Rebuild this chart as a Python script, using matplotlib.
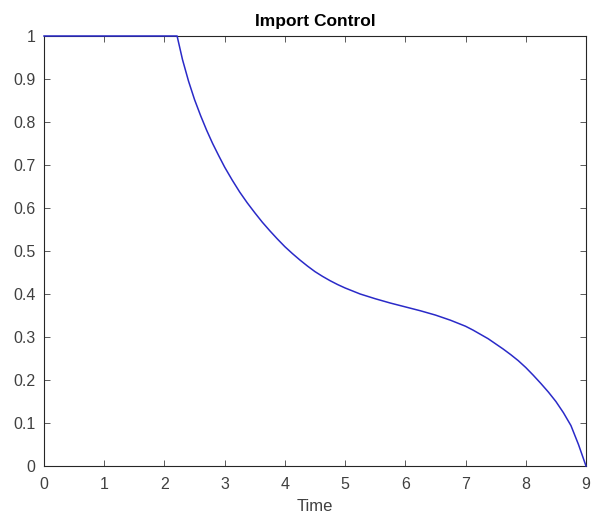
import matplotlib
matplotlib.use("Agg")
import matplotlib.pyplot as plt

# import control u(t)
time = [0.0, 2.21, 2.3, 2.4, 2.5, 2.6, 2.7, 2.8, 2.9, 3.0, 3.125, 3.25, 3.375,
        3.5, 3.625, 3.75, 3.875, 4.0, 4.125, 4.25, 4.375, 4.5, 4.625, 4.75,
        4.875, 5.0, 5.25, 5.5, 5.75, 6.0, 6.25, 6.5, 6.75, 7.0, 7.125, 7.25,
        7.375, 7.5, 7.625, 7.75, 7.875, 8.0, 8.125, 8.25, 8.375, 8.5, 8.625,
        8.75, 8.875, 9.0]
control = [1.0, 1.0, 0.945, 0.895, 0.852, 0.815, 0.781, 0.75, 0.722, 0.695,
           0.665, 0.637, 0.612, 0.589, 0.567, 0.547, 0.528, 0.51, 0.494,
           0.479, 0.465, 0.452, 0.441, 0.431, 0.422, 0.414, 0.4, 0.389, 0.379,
           0.37, 0.361, 0.351, 0.339, 0.325, 0.316, 0.306, 0.296, 0.284,
           0.272, 0.259, 0.245, 0.229, 0.211, 0.192, 0.172, 0.15, 0.124,
           0.094, 0.05, 0.0]

xticks = list(range(0, 10))
yticks = [0, 0.1, 0.2, 0.3, 0.4, 0.5, 0.6, 0.7, 0.8, 0.9, 1]

plt.rcParams["font.family"] = ["Liberation Sans", "DejaVu Sans"]

fig = plt.figure(figsize=(5.93, 5.17), dpi=100)
ax = fig.add_axes([44 / 593, 1 - 466 / 517, 542 / 593, 430 / 517])

ax.plot(time, control, color="#2a2ac8", lw=1.1, clip_on=False, zorder=3)

ax.set_xlim(0, 9)
ax.set_ylim(0, 1)
ax.set_xticks(xticks)
ax.set_xticklabels([str(t) for t in xticks])
ax.set_yticks(yticks)
ax.set_yticklabels([f"{t:g}" for t in yticks])
ax.tick_params(direction="in", length=4, width=0.6, top=True, right=True,
               labelsize=11.5, colors="0.25")
ax.tick_params(axis="x", pad=8)
ax.tick_params(axis="y", pad=6)
for s in ax.spines.values():
    s.set_linewidth(0.8)
    s.set_color("0.15")

ax.set_xlabel("Time", fontsize=12, color="0.25", labelpad=5)
ax.set_title("Import Control", fontsize=12.5, fontweight="bold", pad=7)

fig.savefig("out.png", dpi=100)
